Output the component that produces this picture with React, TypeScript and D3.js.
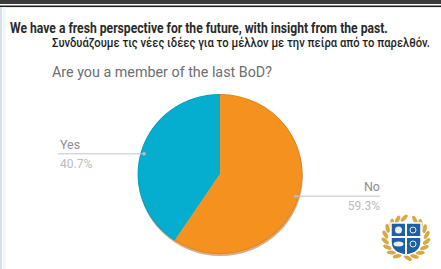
import React, { useLayoutEffect, useRef, useState } from "react";
import * as d3 from "d3";

const categories = ["Yes", "No"];
const values = [40.7, 59.3];
const percentLabels = ["40.7%", "59.3%"];
const colors = ["#05aecf", "#f5911f"];

const headerLine = "We have a fresh perspective for the future, with insight from the past.";
const greekLine = "Συνδυάζουμε τις νέες ιδέες για το μέλλον με την πείρα από το παρελθόν.";
const question = "Are you a member of the last BoD?";

const W = 441;
const H = 269;

function FitText(props: {
  x: number;
  y: number;
  width: number;
  text: string;
  fontFamily: string;
  fontSize: number;
  fontWeight?: string | number;
  fill: string;
}) {
  const ref = useRef<SVGTextElement>(null);
  const [k, setK] = useState(0.7);
  useLayoutEffect(() => {
    if (ref.current) {
      const len = ref.current.getComputedTextLength();
      if (len > 0) setK(props.width / len);
    }
  }, [props.text, props.width]);
  return (
    <g transform={`translate(${props.x},${props.y}) scale(${k},1)`}>
      <text
        ref={ref}
        x={0}
        y={0}
        fontFamily={props.fontFamily}
        fontSize={props.fontSize}
        fontWeight={props.fontWeight}
        fill={props.fill}
      >
        {props.text}
      </text>
    </g>
  );
}

export default function App() {
  const cx = 220;
  const cy = 174;
  const r = 80;
  const sx = 1.03;

  const pie = d3
    .pie<number>()
    .sort(null)
    .value((d) => d)
    .startAngle(0)
    .endAngle(-2 * Math.PI);
  const arcs = pie(values);
  const arc = d3.arc<d3.PieArcDatum<number>>().innerRadius(0).outerRadius(r);

  const labelX = [60, 380];

  const ecx = 406;
  const ecy = 238;
  const leaves: { x: number; y: number; a: number }[] = [];
  const n = 9;
  for (let side = -1; side <= 1; side += 2) {
    for (let i = 0; i < n; i++) {
      const deg = 100 + side * (15 + (i / (n - 1)) * 150);
      const t = (deg * Math.PI) / 180;
      leaves.push({ x: ecx + 21 * Math.cos(t), y: ecy + 20 * Math.sin(t), a: deg + (side > 0 ? 50 : -50) });
    }
  }

  return (
    <svg
      width={W}
      height={H}
      style={{ position: "absolute", left: 0, top: 0 }}
      xmlns="http://www.w3.org/2000/svg"
    >
      <rect x={0} y={0} width={W} height={H} fill="#ffffff" />
      <rect x={0} y={0} width={W} height={4} fill="#3a3a3a" />
      <rect x={0} y={5.5} width={W} height={1.6} fill="#1e1e1e" />
      <line x1={1} y1={7} x2={1} y2={H} stroke="#c9d6e3" strokeWidth={1.5} />
      <line x1={4} y1={7} x2={4} y2={H} stroke="#f1f4f8" strokeWidth={3} />

      <FitText
        x={10}
        y={33}
        width={378}
        text={headerLine}
        fontFamily="Roboto, 'Noto Sans', sans-serif"
        fontWeight="bold"
        fontSize={15}
        fill="#2a2a2a"
      />
      <FitText
        x={52}
        y={47}
        width={378}
        text={greekLine}
        fontFamily="Roboto, 'Noto Sans', sans-serif"
        fontWeight={500}
        fontSize={12}
        fill="#1e1e1e"
      />

      <text
        x={52}
        y={77}
        fontFamily="Roboto, 'Noto Sans', sans-serif"
        fontSize={14}
        fill="#6e6e6e"
        textLength={220}
        lengthAdjust="spacingAndGlyphs"
      >
        {question}
      </text>

      <g transform={`translate(${cx},${cy}) scale(${sx},1)`}>
        <circle cx={0.5} cy={2} r={r} fill="#b5702c" opacity={0.55} />
        {arcs.map((a, i) => (
          <path key={categories[i]} d={arc(a) || ""} fill={colors[i]} />
        ))}
        <circle cx={0} cy={0} r={r - 0.5} fill="none" stroke="#000" strokeOpacity={0.08} />
      </g>

      {arcs.map((a, i) => {
        const mid = (a.startAngle + a.endAngle) / 2;
        const px = cx + (r - 3) * sx * Math.sin(mid);
        const py = cy - (r - 3) * Math.cos(mid) + (i === 0 ? 2 : 0);
        const left = i === 0;
        const lx = labelX[i];
        return (
          <g key={"l" + categories[i]}>
            <line x1={left ? lx - 2 : px} y1={py} x2={left ? px : lx} y2={py} stroke="#c4c4c4" strokeWidth={1} />
            <circle cx={px} cy={py} r={1.8} fill="#bdbdbd" />
            <text
              x={lx}
              y={py - 5}
              textAnchor={left ? "start" : "end"}
              fontFamily="Roboto, 'Noto Sans', sans-serif"
              fontSize={12.5}
              fill="#8e8e8e"
            >
              {categories[i]}
            </text>
            <text
              x={lx}
              y={py + 14}
              textAnchor={left ? "start" : "end"}
              fontFamily="Roboto, 'Noto Sans', sans-serif"
              fontSize={12}
              fill="#bcbcbc"
            >
              {percentLabels[i]}
            </text>
          </g>
        );
      })}

      <g>
        {leaves.map((l, i) => (
          <ellipse
            key={i}
            cx={l.x}
            cy={l.y}
            rx={4.5}
            ry={2}
            fill="#d9a842"
            transform={`rotate(${l.a},${l.x},${l.y})`}
          />
        ))}
        <path
          d={`M${ecx - 15},${ecy - 15} L${ecx + 15},${ecy - 15} L${ecx + 15},${ecy + 4} Q${ecx + 15},${ecy + 15} ${ecx},${ecy + 17} Q${ecx - 15},${ecy + 15} ${ecx - 15},${ecy + 4} Z`}
          fill="#1f5fa6"
          stroke="#ffffff"
          strokeWidth={1.5}
        />
        <line x1={ecx} y1={ecy - 15} x2={ecx} y2={ecy + 16} stroke="#ffffff" strokeWidth={2} />
        <line x1={ecx - 15} y1={ecy - 1} x2={ecx + 15} y2={ecy - 1} stroke="#ffffff" strokeWidth={2} />
        <circle cx={ecx - 7.5} cy={ecy - 8} r={3.5} fill="#e8eef7" />
        <circle cx={ecx + 7} cy={ecy - 8} r={3} fill="none" stroke="#e8eef7" strokeWidth={1} />
        <ellipse cx={ecx - 7.5} cy={ecy + 6} rx={5} ry={2.5} fill="#e8eef7" />
        <circle cx={ecx + 7} cy={ecy + 6} r={3} fill="none" stroke="#e8eef7" strokeWidth={1} />
      </g>
    </svg>
  );
}
